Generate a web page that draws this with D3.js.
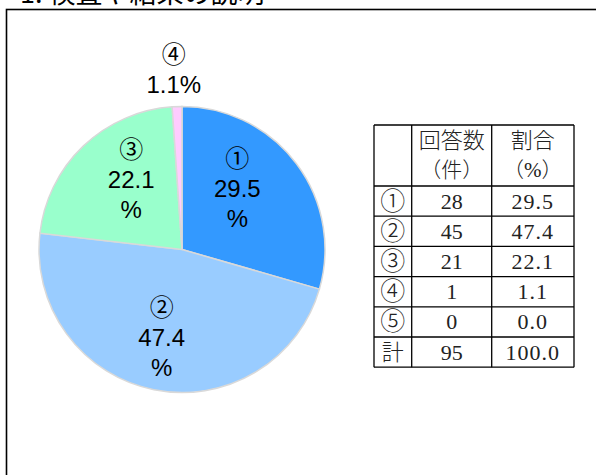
<!DOCTYPE html>
<html>
<head>
<meta charset="utf-8">
<script src="https://cdn.jsdelivr.net/npm/d3@7"></script>
<style>
  html, body { margin: 0; padding: 0; background: #fff; }
  svg { display: block; }
</style>
</head>
<body>
<div id="chart"></div>
<script>
// data
const categories = ['①', '②', '③', '④', '⑤'];
const counts = [28, 45, 21, 1, 0];
const percents = [29.5, 47.4, 22.1, 1.1, 0.0];
const totalLabel = '計';
const totalCount = 95;
const totalPercent = 100.0;
const headerCount = ['回答数', '（件）'];
const headerPercent = ['割合', '（%）'];
const titleText = '1.  検査や結果の説明';

const COLORS = ['#3399FF', '#99CCFF', '#99FFCC', '#FFCCFF', '#FFFF99'];

const width = 596, height = 475;
const svg = d3.select('#chart').append('svg')
  .attr('width', width)
  .attr('height', height);

// frame + heading (clipped by the top edge, as in the original)
svg.append('text')
  .attr('x', 20)
  .attr('y', 3)
  .attr('font-family', '"Noto Sans CJK JP", sans-serif')
  .attr('font-size', 27)
  .attr('fill', '#000')
  .text(titleText);

svg.append('rect')
  .attr('x', 6.5).attr('y', 9.5)
  .attr('width', 800).attr('height', 800)
  .attr('fill', 'none')
  .attr('stroke', '#000')
  .attr('stroke-width', 1.6);

// pie
const cx = 182, cy = 249.5, radius = 143;
const slices = categories.map((c, i) => ({ cat: c, pct: percents[i], color: COLORS[i], i }));

const pie = d3.pie().sort(null).value(d => d.pct);
const arcs = pie(slices);
const arc = d3.arc().innerRadius(0).outerRadius(radius);
const labelArc = d3.arc().innerRadius(88).outerRadius(88);
const outerArc = d3.arc().innerRadius(180).outerRadius(180);

const g = svg.append('g').attr('transform', `translate(${cx},${cy})`);

g.selectAll('path')
  .data(arcs.filter(d => d.data.pct > 0))
  .join('path')
  .attr('d', arc)
  .attr('fill', d => d.data.color)
  .attr('stroke', '#D9D9D9')
  .attr('stroke-width', 1.5);

// small nudges to follow the original's "best fit" placement
const labelNudge = [[-15, -8], [-3, 2], [10, -6], [-2, 0], [0, 0]];

const labels = g.selectAll('g.lbl')
  .data(arcs.filter(d => d.data.pct > 0))
  .join('g')
  .attr('class', 'lbl')
  .attr('transform', d => {
    const outside = d.data.pct < 5;
    const [x, y] = (outside ? outerArc : labelArc).centroid(d);
    const n = labelNudge[d.data.i];
    return `translate(${x + n[0]},${y + n[1]})`;
  });

labels.each(function (d) {
  const outside = d.data.pct < 5;
  const lines = outside
    ? [d.data.cat, d3.format('.1f')(d.data.pct) + '%']
    : [d.data.cat, d3.format('.1f')(d.data.pct), '%'];
  const step = 30;
  const off = -(lines.length - 1) * step / 2;
  d3.select(this).selectAll('text')
    .data(lines)
    .join('text')
    .attr('x', 0)
    .attr('y', (t, k) => off + k * step)
    .attr('text-anchor', 'middle')
    .attr('dominant-baseline', 'central')
    .attr('font-family', '"Liberation Sans", Arial, "Noto Sans CJK JP", sans-serif')
    .attr('font-size', 24)
    .attr('fill', '#000')
    .text(t => t);
});

// table
const colEdges = [374, 411.7, 491.7, 574];
const tableTop = 125, headerH = 61, rowH = 30.2;
const rows = categories.map((c, i) => [c, String(counts[i]), d3.format('.1f')(percents[i])]);
rows.push([totalLabel, String(totalCount), d3.format('.1f')(totalPercent)]);

const y = d3.scaleBand()
  .domain(d3.range(rows.length))
  .range([tableTop + headerH, tableTop + headerH + rowH * rows.length]);

const tbl = svg.append('g')
  .attr('font-family', '"Liberation Serif", "Noto Sans CJK JP", serif')
  .attr('fill', '#000');

const tableBottom = y.range()[1];
const lineStyle = sel => sel.attr('stroke', '#000').attr('stroke-width', 1.3);

// horizontal rules
const hy = [tableTop, tableTop + headerH, ...d3.range(1, rows.length).map(k => y(k)), tableBottom];
tbl.selectAll('line.h')
  .data(hy)
  .join('line')
  .attr('class', 'h')
  .attr('x1', colEdges[0]).attr('x2', colEdges[colEdges.length - 1])
  .attr('y1', d => d).attr('y2', d => d)
  .call(lineStyle);

// vertical rules
tbl.selectAll('line.v')
  .data(colEdges)
  .join('line')
  .attr('class', 'v')
  .attr('x1', d => d).attr('x2', d => d)
  .attr('y1', tableTop).attr('y2', tableBottom)
  .call(lineStyle);

const colMid = k => (colEdges[k] + colEdges[k + 1]) / 2;

// header
[[headerCount, 1], [headerPercent, 2]].forEach(([lines, k]) => {
  tbl.selectAll(null)
    .data(lines)
    .join('text')
    .attr('x', colMid(k))
    .attr('y', (t, j) => tableTop + 15 + j * 30)
    .attr('text-anchor', 'middle')
    .attr('dominant-baseline', 'central')
    .attr('font-size', (t, j) => j === 0 ? 22 : 21)
    .attr('font-weight', 300)
    .attr('fill', '#222')
    .text(t => t);
});

// body
rows.forEach((r, i) => {
  tbl.selectAll(null)
    .data(r)
    .join('text')
    .attr('x', (t, k) => colMid(k))
    .attr('y', y(i) + y.bandwidth() / 2)
    .attr('text-anchor', 'middle')
    .attr('dominant-baseline', 'central')
    .attr('font-size', (t, k) => k === 0 ? (i === rows.length - 1 ? 22 : 25) : 22)
    .attr('letter-spacing', (t, k) => k === 2 ? 1 : 0)
    .attr('font-weight', 300)
    .attr('fill', '#222')
    .text(t => t);
});
</script>
</body>
</html>
